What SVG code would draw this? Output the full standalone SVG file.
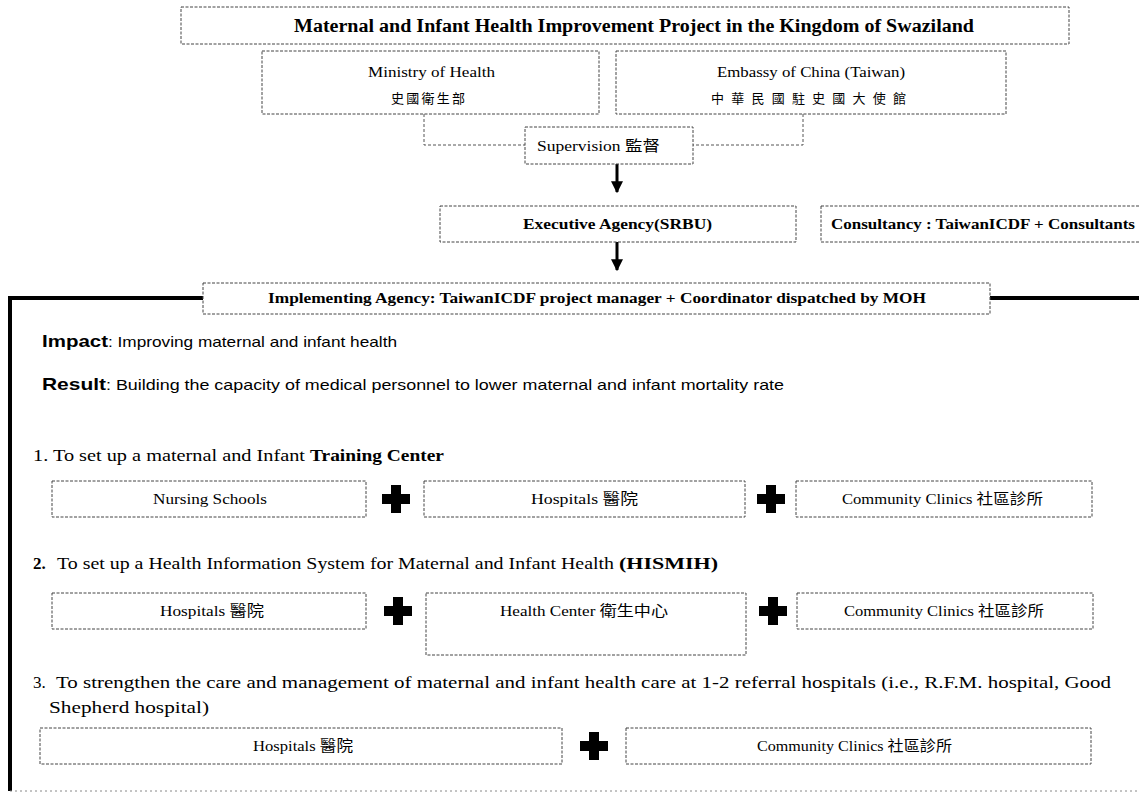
<svg xmlns="http://www.w3.org/2000/svg" width="1139" height="794" viewBox="0 0 1139 794">
<defs>
<style>
.box{fill:#fff;stroke:#444;stroke-width:1;stroke-dasharray:3,1.5}
.conn{fill:none;stroke:#555;stroke-width:1;stroke-dasharray:3,2}
.arr{fill:none;stroke:#000;stroke-width:3}
.thick{fill:none;stroke:#000;stroke-width:4}
.ser{font-family:"Liberation Serif","Noto Sans CJK TC",serif;fill:#000}
.b{font-weight:bold}
.sans{font-family:"Liberation Sans",Arial,sans-serif;fill:#000}
.c{text-anchor:middle}
</style>
<marker id="ah" viewBox="0 0 10 10" refX="9" refY="5" markerWidth="4" markerHeight="4" markerUnits="strokeWidth" orient="auto">
<path d="M0,0 L10,5 L0,10 Z" fill="#000"/>
</marker>
<path id="plus" d="M-5,-14 H5 V-5 H14 V5 H5 V14 H-5 V5 H-14 V-5 H-5 Z" fill="#000"/>
</defs>

<g id="connectors">
<path class="conn" d="M424,114 V145 H525"/>
<path class="conn" d="M803,114 V145 H693"/>
<line class="arr" x1="617" y1="164" x2="617" y2="192" marker-end="url(#ah)"/>
<line class="arr" x1="617" y1="242" x2="617" y2="270" marker-end="url(#ah)"/>
<path class="thick" d="M203,298 H10 V791"/>
<path class="thick" d="M990,298 H1139"/>
<line x1="10" y1="791" x2="1139" y2="791" stroke="#888" stroke-width="1" stroke-dasharray="2,3"/>
</g>

<g id="title">
<rect class="box" x="181" y="7" width="888" height="37"/>
<text class="ser b" x="294" y="32" font-size="18" textLength="680" lengthAdjust="spacingAndGlyphs">Maternal and Infant Health Improvement Project in the Kingdom of Swaziland</text>
</g>

<g id="ministry">
<rect class="box" x="262" y="51" width="337" height="63"/>
<text class="ser" x="368" y="77" font-size="15" textLength="127" lengthAdjust="spacingAndGlyphs">Ministry of Health</text>
<text class="ser" x="391" y="103" font-size="13" textLength="74" lengthAdjust="spacing">史國衛生部</text>
</g>

<g id="embassy">
<rect class="box" x="616" y="51" width="390" height="63"/>
<text class="ser" x="717" y="77" font-size="15" textLength="188" lengthAdjust="spacingAndGlyphs">Embassy of China (Taiwan)</text>
<text class="ser" x="711" y="103" font-size="13" textLength="195" lengthAdjust="spacing">中華民國駐史國大使館</text>
</g>

<g id="supervision">
<rect class="box" x="525" y="127" width="168" height="37"/>
<text class="ser" x="537" y="151" font-size="15" textLength="123" lengthAdjust="spacingAndGlyphs">Supervision 監督</text>
</g>

<g id="executive">
<rect class="box" x="440" y="206" width="356" height="36"/>
<text class="ser b" x="523" y="229" font-size="15.5" textLength="189" lengthAdjust="spacingAndGlyphs">Executive Agency(SRBU)</text>
</g>

<g id="consultancy">
<rect class="box" x="821" y="206" width="330" height="36"/>
<text class="ser b" x="831" y="229" font-size="15.5" textLength="304" lengthAdjust="spacingAndGlyphs">Consultancy : TaiwanICDF + Consultants</text>
</g>

<g id="implementing">
<rect class="box" x="203" y="283" width="787" height="31"/>
<text class="ser b" x="268" y="303" font-size="15.5" textLength="658" lengthAdjust="spacingAndGlyphs">Implementing Agency: TaiwanICDF project manager + Coordinator dispatched by MOH</text>
</g>

<g id="impact">
<text class="sans b" x="42" y="347" font-size="17" textLength="66" lengthAdjust="spacingAndGlyphs">Impact</text>
<text class="sans" x="108" y="347" font-size="15" textLength="289" lengthAdjust="spacingAndGlyphs">: Improving maternal and infant health</text>
</g>
<g id="result">
<text class="sans b" x="42" y="390" font-size="17" textLength="64" lengthAdjust="spacingAndGlyphs">Result</text>
<text class="sans" x="106" y="390" font-size="15" textLength="678" lengthAdjust="spacingAndGlyphs">: Building the capacity of medical personnel to lower maternal and infant mortality rate</text>
</g>

<g id="item1">
<text class="ser" x="33" y="461" font-size="17" textLength="272" lengthAdjust="spacingAndGlyphs">1. To set up a maternal and Infant</text>
<text class="ser b" x="310" y="461" font-size="17" textLength="134" lengthAdjust="spacingAndGlyphs">Training Center</text>
</g>
<g id="r1-nursing">
<rect class="box" x="52" y="481" width="314" height="36"/>
<text class="ser" x="153" y="504" font-size="15" textLength="114" lengthAdjust="spacingAndGlyphs">Nursing Schools</text>
</g>
<use href="#plus" x="396" y="499"/>
<g id="r1-hospitals">
<rect class="box" x="424" y="481" width="321" height="36"/>
<text class="ser" x="531" y="504" font-size="15" textLength="107" lengthAdjust="spacingAndGlyphs">Hospitals 醫院</text>
</g>
<use href="#plus" x="771" y="499"/>
<g id="r1-clinics">
<rect class="box" x="796" y="481" width="296" height="36"/>
<text class="ser" x="842" y="504" font-size="15" textLength="201" lengthAdjust="spacingAndGlyphs">Community Clinics 社區診所</text>
</g>

<g id="item2">
<text class="ser b" x="33" y="569" font-size="17">2.</text>
<text class="ser" x="57" y="569" font-size="17" textLength="557" lengthAdjust="spacingAndGlyphs">To set up a Health Information System for Maternal and Infant Health</text>
<text class="ser b" x="619" y="569" font-size="17" textLength="99" lengthAdjust="spacingAndGlyphs">(HISMIH)</text>
</g>
<g id="r2-hospitals">
<rect class="box" x="52" y="593" width="314" height="36"/>
<text class="ser" x="160" y="616" font-size="15" textLength="104" lengthAdjust="spacingAndGlyphs">Hospitals 醫院</text>
</g>
<use href="#plus" x="398" y="611"/>
<g id="r2-healthcenter">
<rect class="box" x="426" y="593" width="320" height="62"/>
<text class="ser" x="500" y="616" font-size="15" textLength="168" lengthAdjust="spacingAndGlyphs">Health Center 衛生中心</text>
</g>
<use href="#plus" x="773" y="611"/>
<g id="r2-clinics">
<rect class="box" x="797" y="593" width="296" height="36"/>
<text class="ser" x="844" y="616" font-size="15" textLength="200" lengthAdjust="spacingAndGlyphs">Community Clinics 社區診所</text>
</g>

<g id="item3">
<text class="ser" x="33" y="688" font-size="17">3.</text>
<text class="ser" x="56" y="688" font-size="17" textLength="1055" lengthAdjust="spacingAndGlyphs">To strengthen the care and management of maternal and infant health care at 1-2 referral hospitals (i.e., R.F.M. hospital, Good</text>
<text class="ser" x="49" y="713" font-size="17" textLength="160" lengthAdjust="spacingAndGlyphs">Shepherd hospital)</text>
</g>
<g id="r3-hospitals">
<rect class="box" x="40" y="728" width="522" height="36"/>
<text class="ser" x="253" y="751" font-size="15" textLength="100" lengthAdjust="spacingAndGlyphs">Hospitals 醫院</text>
</g>
<use href="#plus" x="594" y="746"/>
<g id="r3-clinics">
<rect class="box" x="626" y="728" width="465" height="36"/>
<text class="ser" x="757" y="751" font-size="15" textLength="195" lengthAdjust="spacingAndGlyphs">Community Clinics 社區診所</text>
</g>
</svg>
